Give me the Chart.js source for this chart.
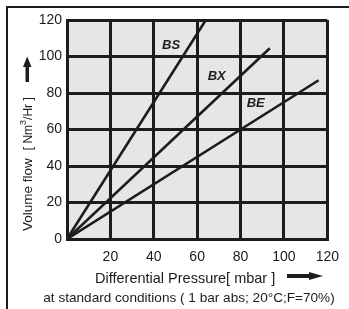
<!DOCTYPE html>
<html><head><meta charset="utf-8">
<script src="https://cdn.jsdelivr.net/npm/chart.js@4.4.1/dist/chart.umd.min.js"></script>
<style>html,body{margin:0;padding:0;background:#fff}#wrap{width:349px;height:309px;position:relative}</style>
</head><body><div id="wrap"><canvas id="c" width="349" height="309"></canvas></div>
<script>
const seriesNames = ["BS", "BX", "BE"];
const seriesStart = [[0, 0], [0, 0], [0, 0]];
const seriesEnd = [[64, 120], [93.5, 104.5], [116, 87]];
const labelAt = [[48, 106], [69, 89], [87, 74.5]];
const xTicks = [20, 40, 60, 80, 100, 120];
const yTicks = [0, 20, 40, 60, 80, 100, 120];
const xTitle = "Differential Pressure[ mbar ]";
const footNote = "at standard conditions ( 1 bar abs; 20°C;F=70%)";

const INK = "#1c1c1c";
const F = "Liberation Sans, Arial, sans-serif";

const datasets = seriesNames.map((n, i) => ({
  label: n,
  data: [{x: seriesStart[i][0], y: seriesStart[i][1]}, {x: seriesEnd[i][0], y: seriesEnd[i][1]}],
  borderColor: INK, borderWidth: 2.6, pointRadius: 0, fill: false, tension: 0
}));

const deco = {
  id: "deco",
  beforeDraw(chart) {
    const {ctx, chartArea: a} = chart;
    ctx.save();
    ctx.fillStyle = "#e6e6e6";
    ctx.fillRect(a.left, a.top, a.right - a.left, a.bottom - a.top);
    ctx.restore();
  },
  afterDraw(chart) {
    const {ctx, scales} = chart;
    ctx.save();
    // frame
    ctx.strokeStyle = INK; ctx.lineWidth = 2;
    ctx.beginPath(); ctx.moveTo(7, 309); ctx.lineTo(7, 7); ctx.lineTo(349, 7); ctx.stroke();
    // series labels
    ctx.fillStyle = INK;
    ctx.font = "italic bold 13px " + F;
    ctx.textAlign = "center"; ctx.textBaseline = "middle";
    seriesNames.forEach((n, i) => {
      ctx.fillText(n, scales.x.getPixelForValue(labelAt[i][0]), scales.y.getPixelForValue(labelAt[i][1]));
    });
    // x title
    ctx.textBaseline = "alphabetic";
    ctx.font = "14.5px " + F;
    ctx.textAlign = "left";
    ctx.fillText(xTitle, 95, 282.5);
    // right arrow
    ctx.fillRect(287, 274, 24, 4);
    ctx.beginPath(); ctx.moveTo(309, 272); ctx.lineTo(323, 276); ctx.lineTo(309, 280); ctx.closePath(); ctx.fill();
    // footnote
    ctx.font = "13.6px " + F;
    ctx.textAlign = "center";
    ctx.fillText(footNote, 189, 301.5);
    // y title (rotated)
    ctx.translate(32, 231);
    ctx.rotate(-Math.PI / 2);
    ctx.textAlign = "left";
    ctx.font = "13.5px " + F;
    let x = 0;
    ctx.fillText("Volume flow", x, 0); x += ctx.measureText("Volume flow").width + 8;
    ctx.font = "12px " + F;
    ctx.fillText("[ Nm", x, 0); x += ctx.measureText("[ Nm").width;
    ctx.font = "9px " + F;
    ctx.fillText("3", x, -6); x += ctx.measureText("3").width;
    ctx.font = "12px " + F;
    ctx.fillText("/Hr ]", x, 0);
    ctx.restore();
    // up arrow
    ctx.save();
    ctx.fillStyle = INK;
    ctx.fillRect(25.5, 65, 3.5, 17);
    ctx.beginPath(); ctx.moveTo(23, 67); ctx.lineTo(27.2, 56.5); ctx.lineTo(31.5, 67); ctx.closePath(); ctx.fill();
    ctx.restore();
  }
};

new Chart(document.getElementById("c"), {
  type: "line",
  data: {datasets},
  options: {
    responsive: false, animation: false, devicePixelRatio: 1,
    layout: {padding: {left: 0, top: 20, right: 15, bottom: 0}},
    plugins: {legend: {display: false}, tooltip: {enabled: false}},
    scales: {
      x: {
        type: "linear", min: 0, max: 120,
        afterFit(s) { s.height = 70; },
        afterBuildTicks(s) { s.ticks = [0].concat(xTicks).map(v => ({value: v})); },
        grid: {color: INK, lineWidth: 3, drawTicks: false},
        border: {color: INK, width: 3},
        ticks: {color: INK, padding: 10, font: {size: 14, family: F},
          callback: v => (v === 0 ? "" : String(v))}
      },
      y: {
        type: "linear", min: 0, max: 120,
        afterFit(s) { s.width = 67; },
        afterBuildTicks(s) { s.ticks = yTicks.map(v => ({value: v})); },
        grid: {color: INK, lineWidth: 3, drawTicks: false},
        border: {color: INK, width: 3},
        ticks: {color: INK, padding: 5, font: {size: 14, family: F}}
      }
    }
  },
  plugins: [deco]
});
</script></body></html>
